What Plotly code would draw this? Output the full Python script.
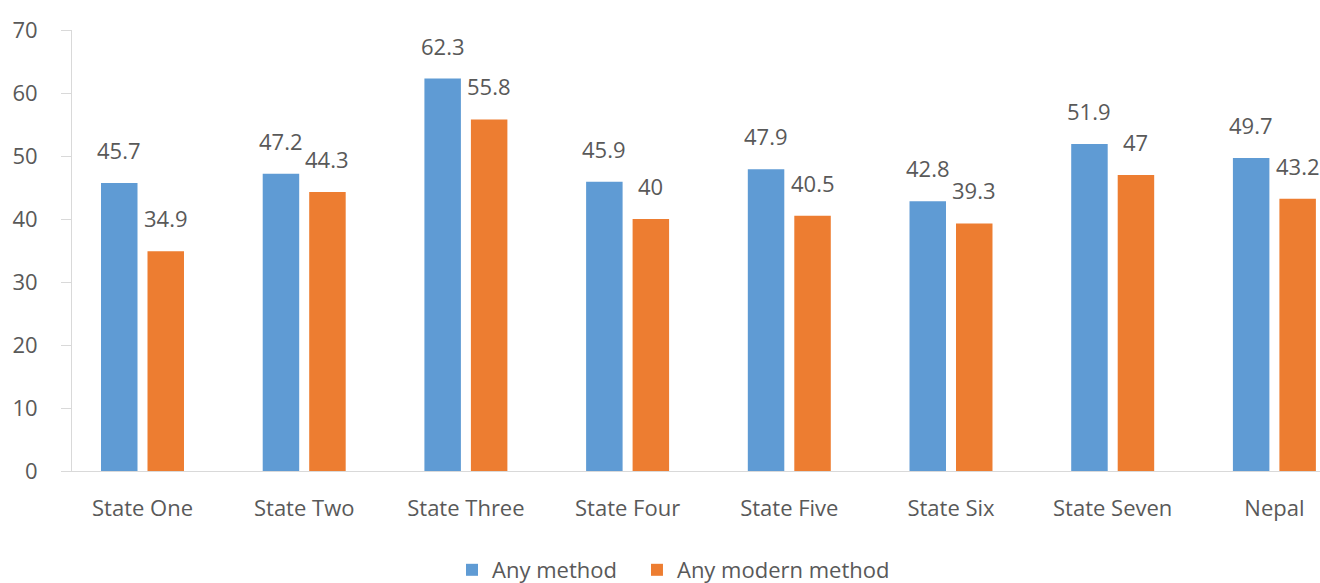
import plotly.graph_objects as go

# Contraceptive prevalence by state
categories = ["State One", "State Two", "State Three", "State Four",
              "State Five", "State Six", "State Seven", "Nepal"]
any_method = [45.7, 47.2, 62.3, 45.9, 47.9, 42.8, 51.9, 49.7]
any_modern_method = [34.9, 44.3, 55.8, 40, 40.5, 39.3, 47, 43.2]
y_ticks = [0, 10, 20, 30, 40, 50, 60, 70]

BLUE = "#5F9BD4"
ORANGE = "#ED7D31"
TEXT = "#595959"
AXIS = "#D9D9D9"
FONT = "Open Sans"
FS = 22

fig = go.Figure()
fig.add_trace(go.Bar(name="Any method", x=categories, y=any_method,
                     marker=dict(color=BLUE, line=dict(width=0)),
                     legend="legend"))
fig.add_trace(go.Bar(name="Any modern method", x=categories, y=any_modern_method,
                     marker=dict(color=ORANGE, line=dict(width=0)),
                     legend="legend2"))

# value labels above each bar, shifted to the bar's slot within its group
slot_shift = 23.25
for series, shift in ((any_method, -slot_shift), (any_modern_method, slot_shift)):
    for cat, val in zip(categories, series):
        fig.add_annotation(x=cat, y=val, text=str(val), showarrow=False,
                           xref="x", yref="y", xshift=shift, yshift=16,
                           yanchor="bottom", xanchor="center",
                           font=dict(family=FONT, size=FS, color=TEXT))

legend_style = dict(orientation="h", xanchor="left", y=-0.2245, yanchor="middle",
                    font=dict(family=FONT, size=FS, color=TEXT),
                    itemwidth=30, bgcolor="rgba(0,0,0,0)")

fig.update_layout(
    width=1320, height=583,
    margin=dict(l=72, r=0, t=30, b=112, autoexpand=False),
    paper_bgcolor="white", plot_bgcolor="white",
    barmode="group", bargap=0.425, bargroupgap=0.215,
    font=dict(family=FONT, size=FS, color=TEXT),
    showlegend=True,
    legend=dict(x=0.3045, **legend_style),
    legend2=dict(x=0.4527, **legend_style),
)
fig.update_xaxes(type="category", range=[-0.436, 7.282],
                 showline=True, linecolor=AXIS, linewidth=1,
                 ticks="", showgrid=False, zeroline=False,
                 ticklabelstandoff=18,
                 tickfont=dict(family=FONT, size=FS, color=TEXT))
fig.update_yaxes(range=[0, 70], tickvals=y_ticks,
                 showline=True, linecolor=AXIS, linewidth=1,
                 ticks="outside", ticklen=10, tickcolor=AXIS,
                 showgrid=False, zeroline=False,
                 ticklabelstandoff=19,
                 tickfont=dict(family=FONT, size=FS, color=TEXT))

fig.write_html("out.html")
